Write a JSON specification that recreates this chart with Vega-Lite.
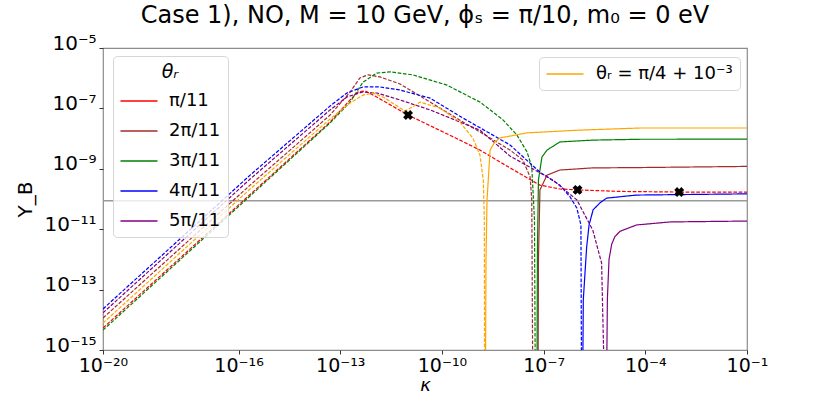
{
  "$schema": "https://vega.github.io/schema/vega-lite/v6.json",
  "width": 644,
  "height": 302,
  "autosize": {"type": "none"},
  "padding": {"left": 103, "top": 48, "right": 84, "bottom": 44},
  "background": "white",
  "title": {"text": "Case 1), NO, M = 10 GeV, ϕₛ = π/10, m₀ = 0 eV", "fontSize": 24, "fontWeight": "normal", "font": "DejaVu Sans", "offset": 5, "anchor": "middle", "color": "#000"},
  "config": {
    "font": "DejaVu Sans",
    "view": {"stroke": "#8c8c8c", "strokeWidth": 1.2},
    "axis": {"domain": false, "grid": false, "labelFont": "DejaVu Sans", "labelFontSize": 20, "labelColor": "#000", "tickColor": "#333", "tickSize": 4, "titleFont": "DejaVu Sans", "titleFontSize": 20, "titleFontWeight": "normal", "titleColor": "#000", "labelOverlap": false, "labelFlush": false}
  },
  "datasets": {
    "observed": [{"Y_B": 8.7e-11, "label": "observed"}],
    "markers": [
      {"kappa": 1e-11, "Y_B": 6.03e-8},
      {"kappa": 1e-6, "Y_B": 2.0e-10},
      {"kappa": 1e-3, "Y_B": 1.70e-10}
    ],
    "curves": [
      {"theta": "π/11", "branch": "negative", "kappa": 1e-20, "Y_B": 5.37e-15},
      {"theta": "π/11", "branch": "negative", "kappa": 7.24e-18, "Y_B": 4.37e-12},
      {"theta": "π/11", "branch": "negative", "kappa": 5.01e-14, "Y_B": 3.55e-8},
      {"theta": "π/11", "branch": "negative", "kappa": 1.95e-13, "Y_B": 1.91e-7},
      {"theta": "π/11", "branch": "negative", "kappa": 3.31e-13, "Y_B": 3.47e-7},
      {"theta": "π/11", "branch": "negative", "kappa": 5.37e-13, "Y_B": 3.80e-7},
      {"theta": "π/11", "branch": "negative", "kappa": 1.05e-12, "Y_B": 2.57e-7},
      {"theta": "π/11", "branch": "negative", "kappa": 1e-11, "Y_B": 6.03e-8},
      {"theta": "π/11", "branch": "negative", "kappa": 3.39e-10, "Y_B": 8.91e-9},
      {"theta": "π/11", "branch": "negative", "kappa": 1.32e-9, "Y_B": 4.17e-9},
      {"theta": "π/11", "branch": "negative", "kappa": 1.02e-8, "Y_B": 1.07e-9},
      {"theta": "π/11", "branch": "negative", "kappa": 7.76e-8, "Y_B": 2.88e-10},
      {"theta": "π/11", "branch": "negative", "kappa": 3.02e-7, "Y_B": 2.14e-10},
      {"theta": "π/11", "branch": "negative", "kappa": 1e-6, "Y_B": 2.0e-10},
      {"theta": "π/11", "branch": "negative", "kappa": 1.78e-5, "Y_B": 1.78e-10},
      {"theta": "π/11", "branch": "negative", "kappa": 1e-3, "Y_B": 1.70e-10},
      {"theta": "π/11", "branch": "negative", "kappa": 1e-1, "Y_B": 1.70e-10},

      {"theta": "2π/11", "branch": "negative", "kappa": 1e-20, "Y_B": 1.15e-14},
      {"theta": "2π/11", "branch": "negative", "kappa": 2.19e-16, "Y_B": 2.88e-10},
      {"theta": "2π/11", "branch": "negative", "kappa": 5.01e-14, "Y_B": 6.03e-8},
      {"theta": "2π/11", "branch": "negative", "kappa": 1.95e-13, "Y_B": 3.47e-7},
      {"theta": "2π/11", "branch": "negative", "kappa": 3.80e-13, "Y_B": 1.02e-6},
      {"theta": "2π/11", "branch": "negative", "kappa": 6.61e-13, "Y_B": 1.29e-6},
      {"theta": "2π/11", "branch": "negative", "kappa": 1.48e-12, "Y_B": 1.10e-6},
      {"theta": "2π/11", "branch": "negative", "kappa": 5.75e-12, "Y_B": 6.46e-7},
      {"theta": "2π/11", "branch": "negative", "kappa": 4.47e-11, "Y_B": 1.62e-7},
      {"theta": "2π/11", "branch": "negative", "kappa": 4.17e-10, "Y_B": 3.55e-8},
      {"theta": "2π/11", "branch": "negative", "kappa": 2.63e-9, "Y_B": 1.05e-8},
      {"theta": "2π/11", "branch": "negative", "kappa": 1.02e-8, "Y_B": 4.17e-9},
      {"theta": "2π/11", "branch": "negative", "kappa": 2.45e-8, "Y_B": 1.95e-9},
      {"theta": "2π/11", "branch": "negative", "kappa": 3.98e-8, "Y_B": 5.37e-10},
      {"theta": "2π/11", "branch": "negative", "kappa": 4.47e-8, "Y_B": 9.33e-11},
      {"theta": "2π/11", "branch": "negative", "kappa": 4.83e-8, "Y_B": 1e-17},
      {"theta": "2π/11", "branch": "positive", "kappa": 6.79e-8, "Y_B": 1e-17},
      {"theta": "2π/11", "branch": "positive", "kappa": 7.03e-8, "Y_B": 9.5e-13},
      {"theta": "2π/11", "branch": "positive", "kappa": 7.78e-8, "Y_B": 2.0e-10},
      {"theta": "2π/11", "branch": "positive", "kappa": 1.26e-7, "Y_B": 6.17e-10},
      {"theta": "2π/11", "branch": "positive", "kappa": 3.02e-7, "Y_B": 9.12e-10},
      {"theta": "2π/11", "branch": "positive", "kappa": 2.82e-6, "Y_B": 1.07e-9},
      {"theta": "2π/11", "branch": "positive", "kappa": 6.92e-5, "Y_B": 1.1e-9},
      {"theta": "2π/11", "branch": "positive", "kappa": 1e-1, "Y_B": 1.2e-9},

      {"theta": "3π/11", "branch": "negative", "kappa": 1e-20, "Y_B": 4.57e-15},
      {"theta": "3π/11", "branch": "negative", "kappa": 2.19e-16, "Y_B": 1.26e-10},
      {"theta": "3π/11", "branch": "negative", "kappa": 5.01e-14, "Y_B": 3.31e-8},
      {"theta": "3π/11", "branch": "negative", "kappa": 1.95e-13, "Y_B": 1.62e-7},
      {"theta": "3π/11", "branch": "negative", "kappa": 4.68e-13, "Y_B": 7.41e-7},
      {"theta": "3π/11", "branch": "negative", "kappa": 1.20e-12, "Y_B": 1.48e-6},
      {"theta": "3π/11", "branch": "negative", "kappa": 2.95e-12, "Y_B": 1.62e-6},
      {"theta": "3π/11", "branch": "negative", "kappa": 1.38e-11, "Y_B": 1.29e-6},
      {"theta": "3π/11", "branch": "negative", "kappa": 1.41e-10, "Y_B": 5.89e-7},
      {"theta": "3π/11", "branch": "negative", "kappa": 1.32e-9, "Y_B": 1.62e-7},
      {"theta": "3π/11", "branch": "negative", "kappa": 6.31e-9, "Y_B": 4.17e-8},
      {"theta": "3π/11", "branch": "negative", "kappa": 1.62e-8, "Y_B": 1.32e-8},
      {"theta": "3π/11", "branch": "negative", "kappa": 3.24e-8, "Y_B": 3.63e-9},
      {"theta": "3π/11", "branch": "negative", "kappa": 4.47e-8, "Y_B": 1.15e-9},
      {"theta": "3π/11", "branch": "negative", "kappa": 5.37e-8, "Y_B": 2.0e-11},
      {"theta": "3π/11", "branch": "negative", "kappa": 5.73e-8, "Y_B": 1e-17},
      {"theta": "3π/11", "branch": "positive", "kappa": 6.34e-8, "Y_B": 1e-17},
      {"theta": "3π/11", "branch": "positive", "kappa": 6.56e-8, "Y_B": 2.04e-12},
      {"theta": "3π/11", "branch": "positive", "kappa": 7.03e-8, "Y_B": 4.27e-10},
      {"theta": "3π/11", "branch": "positive", "kappa": 8.91e-8, "Y_B": 2.45e-9},
      {"theta": "3π/11", "branch": "positive", "kappa": 1.26e-7, "Y_B": 4.17e-9},
      {"theta": "3π/11", "branch": "positive", "kappa": 3.02e-7, "Y_B": 7.76e-9},
      {"theta": "3π/11", "branch": "positive", "kappa": 2.82e-6, "Y_B": 8.91e-9},
      {"theta": "3π/11", "branch": "positive", "kappa": 6.92e-5, "Y_B": 9.5e-9},
      {"theta": "3π/11", "branch": "positive", "kappa": 1e-1, "Y_B": 9.6e-9},

      {"theta": "4π/11", "branch": "negative", "kappa": 1e-20, "Y_B": 2.29e-14},
      {"theta": "4π/11", "branch": "negative", "kappa": 2.19e-16, "Y_B": 6.17e-10},
      {"theta": "4π/11", "branch": "negative", "kappa": 5.01e-14, "Y_B": 1.20e-7},
      {"theta": "4π/11", "branch": "negative", "kappa": 1.58e-13, "Y_B": 3.24e-7},
      {"theta": "4π/11", "branch": "negative", "kappa": 4.68e-13, "Y_B": 5.13e-7},
      {"theta": "4π/11", "branch": "negative", "kappa": 1.48e-12, "Y_B": 5.13e-7},
      {"theta": "4π/11", "branch": "negative", "kappa": 5.75e-12, "Y_B": 4.07e-7},
      {"theta": "4π/11", "branch": "negative", "kappa": 4.47e-11, "Y_B": 2.19e-7},
      {"theta": "4π/11", "branch": "negative", "kappa": 4.17e-10, "Y_B": 4.79e-8},
      {"theta": "4π/11", "branch": "negative", "kappa": 1.02e-8, "Y_B": 6.17e-9},
      {"theta": "4π/11", "branch": "negative", "kappa": 7.76e-8, "Y_B": 7.76e-10},
      {"theta": "4π/11", "branch": "negative", "kappa": 3.02e-7, "Y_B": 2.88e-10},
      {"theta": "4π/11", "branch": "negative", "kappa": 6.03e-7, "Y_B": 1.17e-10},
      {"theta": "4π/11", "branch": "negative", "kappa": 9.55e-7, "Y_B": 5.01e-11},
      {"theta": "4π/11", "branch": "negative", "kappa": 1.26e-6, "Y_B": 1.38e-11},
      {"theta": "4π/11", "branch": "negative", "kappa": 1.32e-6, "Y_B": 1e-17},
      {"theta": "4π/11", "branch": "positive", "kappa": 1.40e-6, "Y_B": 1e-17},
      {"theta": "4π/11", "branch": "positive", "kappa": 1.48e-6, "Y_B": 4.6e-14},
      {"theta": "4π/11", "branch": "positive", "kappa": 1.86e-6, "Y_B": 2.57e-12},
      {"theta": "4π/11", "branch": "positive", "kappa": 2.19e-6, "Y_B": 1.38e-11},
      {"theta": "4π/11", "branch": "positive", "kappa": 2.88e-6, "Y_B": 4.37e-11},
      {"theta": "4π/11", "branch": "positive", "kappa": 4.57e-6, "Y_B": 7.41e-11},
      {"theta": "4π/11", "branch": "positive", "kappa": 7.24e-6, "Y_B": 1.07e-10},
      {"theta": "4π/11", "branch": "positive", "kappa": 5.50e-5, "Y_B": 1.35e-10},
      {"theta": "4π/11", "branch": "positive", "kappa": 1e-1, "Y_B": 1.48e-10},

      {"theta": "5π/11", "branch": "negative", "kappa": 1e-20, "Y_B": 1.70e-14},
      {"theta": "5π/11", "branch": "negative", "kappa": 2.19e-16, "Y_B": 4.57e-10},
      {"theta": "5π/11", "branch": "negative", "kappa": 5.01e-14, "Y_B": 8.91e-8},
      {"theta": "5π/11", "branch": "negative", "kappa": 1.58e-13, "Y_B": 2.40e-7},
      {"theta": "5π/11", "branch": "negative", "kappa": 4.37e-13, "Y_B": 3.47e-7},
      {"theta": "5π/11", "branch": "negative", "kappa": 1.20e-12, "Y_B": 3.24e-7},
      {"theta": "5π/11", "branch": "negative", "kappa": 5.75e-12, "Y_B": 1.91e-7},
      {"theta": "5π/11", "branch": "negative", "kappa": 4.47e-11, "Y_B": 8.91e-8},
      {"theta": "5π/11", "branch": "negative", "kappa": 1.32e-9, "Y_B": 1.91e-8},
      {"theta": "5π/11", "branch": "negative", "kappa": 1.02e-8, "Y_B": 2.63e-9},
      {"theta": "5π/11", "branch": "negative", "kappa": 1.86e-7, "Y_B": 4.27e-10},
      {"theta": "5π/11", "branch": "negative", "kappa": 9.55e-7, "Y_B": 9.33e-11},
      {"theta": "5π/11", "branch": "negative", "kappa": 2.82e-6, "Y_B": 9.33e-12},
      {"theta": "5π/11", "branch": "negative", "kappa": 5.13e-6, "Y_B": 7.59e-13},
      {"theta": "5π/11", "branch": "negative", "kappa": 6.46e-6, "Y_B": 1e-17},
      {"theta": "5π/11", "branch": "positive", "kappa": 7.08e-6, "Y_B": 1e-17},
      {"theta": "5π/11", "branch": "positive", "kappa": 7.6e-6, "Y_B": 5.0e-14},
      {"theta": "5π/11", "branch": "positive", "kappa": 8.5e-6, "Y_B": 1.0e-12},
      {"theta": "5π/11", "branch": "positive", "kappa": 1.02e-5, "Y_B": 3.2e-12},
      {"theta": "5π/11", "branch": "positive", "kappa": 1.26e-5, "Y_B": 5.6e-12},
      {"theta": "5π/11", "branch": "positive", "kappa": 1.78e-5, "Y_B": 8.5e-12},
      {"theta": "5π/11", "branch": "positive", "kappa": 5.50e-5, "Y_B": 1.38e-11},
      {"theta": "5π/11", "branch": "positive", "kappa": 5.37e-4, "Y_B": 1.74e-11},
      {"theta": "5π/11", "branch": "positive", "kappa": 1e-1, "Y_B": 1.86e-11}
    ],
    "orange": [
      {"theta": "θᵣ = π/4 + 10⁻³", "branch": "negative", "kappa": 1e-20, "Y_B": 7.76e-15},
      {"theta": "θᵣ = π/4 + 10⁻³", "branch": "negative", "kappa": 2.19e-16, "Y_B": 2.14e-10},
      {"theta": "θᵣ = π/4 + 10⁻³", "branch": "negative", "kappa": 5.01e-14, "Y_B": 4.47e-8},
      {"theta": "θᵣ = π/4 + 10⁻³", "branch": "negative", "kappa": 1.95e-13, "Y_B": 1.51e-7},
      {"theta": "θᵣ = π/4 + 10⁻³", "branch": "negative", "kappa": 4.68e-13, "Y_B": 2.75e-7},
      {"theta": "θᵣ = π/4 + 10⁻³", "branch": "negative", "kappa": 9.12e-13, "Y_B": 3.24e-7},
      {"theta": "θᵣ = π/4 + 10⁻³", "branch": "negative", "kappa": 1.82e-12, "Y_B": 2.40e-7},
      {"theta": "θᵣ = π/4 + 10⁻³", "branch": "negative", "kappa": 8.13e-12, "Y_B": 8.13e-8},
      {"theta": "θᵣ = π/4 + 10⁻³", "branch": "negative", "kappa": 1.38e-11, "Y_B": 1.12e-7},
      {"theta": "θᵣ = π/4 + 10⁻³", "branch": "negative", "kappa": 2.24e-11, "Y_B": 1.62e-7},
      {"theta": "θᵣ = π/4 + 10⁻³", "branch": "negative", "kappa": 8.71e-11, "Y_B": 1.02e-7},
      {"theta": "θᵣ = π/4 + 10⁻³", "branch": "negative", "kappa": 3.39e-10, "Y_B": 3.55e-8},
      {"theta": "θᵣ = π/4 + 10⁻³", "branch": "negative", "kappa": 8.13e-10, "Y_B": 1.05e-8},
      {"theta": "θᵣ = π/4 + 10⁻³", "branch": "negative", "kappa": 1.32e-9, "Y_B": 2.88e-9},
      {"theta": "θᵣ = π/4 + 10⁻³", "branch": "negative", "kappa": 1.66e-9, "Y_B": 4.27e-10},
      {"theta": "θᵣ = π/4 + 10⁻³", "branch": "negative", "kappa": 1.78e-9, "Y_B": 2.0e-11},
      {"theta": "θᵣ = π/4 + 10⁻³", "branch": "negative", "kappa": 1.82e-9, "Y_B": 1e-17},
      {"theta": "θᵣ = π/4 + 10⁻³", "branch": "positive", "kappa": 1.91e-9, "Y_B": 1e-17},
      {"theta": "θᵣ = π/4 + 10⁻³", "branch": "positive", "kappa": 1.99e-9, "Y_B": 9.5e-13},
      {"theta": "θᵣ = π/4 + 10⁻³", "branch": "positive", "kappa": 2.14e-9, "Y_B": 9.3e-11},
      {"theta": "θᵣ = π/4 + 10⁻³", "branch": "positive", "kappa": 2.63e-9, "Y_B": 4.17e-9},
      {"theta": "θᵣ = π/4 + 10⁻³", "branch": "positive", "kappa": 3.63e-9, "Y_B": 7.76e-9},
      {"theta": "θᵣ = π/4 + 10⁻³", "branch": "positive", "kappa": 5.13e-9, "Y_B": 1.05e-8},
      {"theta": "θᵣ = π/4 + 10⁻³", "branch": "positive", "kappa": 3.24e-8, "Y_B": 1.55e-8},
      {"theta": "θᵣ = π/4 + 10⁻³", "branch": "positive", "kappa": 1.17e-6, "Y_B": 1.91e-8},
      {"theta": "θᵣ = π/4 + 10⁻³", "branch": "positive", "kappa": 6.92e-5, "Y_B": 2.24e-8},
      {"theta": "θᵣ = π/4 + 10⁻³", "branch": "positive", "kappa": 2.09e-3, "Y_B": 2.24e-8},
      {"theta": "θᵣ = π/4 + 10⁻³", "branch": "positive, faint", "kappa": 2.09e-3, "Y_B": 2.24e-8},
      {"theta": "θᵣ = π/4 + 10⁻³", "branch": "positive, faint", "kappa": 1e-1, "Y_B": 2.24e-8}
    ]
  },
  "layer": [
    {
      "data": {"name": "observed"},
      "mark": {"type": "rule", "color": "#9a9a9a", "strokeWidth": 1.5},
      "encoding": {
        "y": {"field": "Y_B", "type": "quantitative", "scale": {"type": "log", "domain": [1e-15, 1e-5], "nice": false}}
      }
    },
    {
      "data": {"name": "curves"},
      "mark": {"type": "line", "clip": true, "strokeWidth": 1.2},
      "encoding": {
        "x": {"field": "kappa", "type": "quantitative", "scale": {"type": "log", "domain": [1e-20, 1e-1], "nice": false},
          "axis": {"title": "κ", "titleFontStyle": "italic", "titleFontSize": 18, "titlePadding": 1, "labelFontSize": 19, "labelPadding": 2, "values": [1e-20, 1e-16, 1e-13, 1e-10, 1e-7, 1e-4, 1e-1],
            "labelExpr": "'10' + replace(replace(replace(replace(replace(replace(replace(replace(replace(replace(replace('' + round(log(datum.value)/LN10), '-', '⁻'), regexp('0','g'), '⁰'), regexp('1','g'), '¹'), regexp('2','g'), '²'), regexp('3','g'), '³'), regexp('4','g'), '⁴'), regexp('5','g'), '⁵'), regexp('6','g'), '⁶'), regexp('7','g'), '⁷'), regexp('8','g'), '⁸'), regexp('9','g'), '⁹')"}},
        "y": {"field": "Y_B", "type": "quantitative", "scale": {"type": "log", "domain": [1e-15, 1e-5], "nice": false},
          "axis": {"title": "Y_B", "titlePadding": 8, "labelPadding": 3, "labelOffset": -5, "values": [1e-15, 1e-13, 1e-11, 1e-9, 1e-7, 1e-5],
            "labelExpr": "'10' + replace(replace(replace(replace(replace(replace(replace(replace(replace(replace(replace('' + round(log(datum.value)/LN10), '-', '⁻'), regexp('0','g'), '⁰'), regexp('1','g'), '¹'), regexp('2','g'), '²'), regexp('3','g'), '³'), regexp('4','g'), '⁴'), regexp('5','g'), '⁵'), regexp('6','g'), '⁶'), regexp('7','g'), '⁷'), regexp('8','g'), '⁸'), regexp('9','g'), '⁹')"}},
        "color": {"field": "theta", "type": "nominal",
          "scale": {"domain": ["π/11", "2π/11", "3π/11", "4π/11", "5π/11"], "range": ["#ff0000", "#a52a2a", "#008000", "#0000ff", "#800080"]},
          "legend": {"title": "θᵣ", "orient": "none", "legendX": 10, "legendY": 8, "titleAnchor": "middle", "titleFontSize": 19, "titleFontWeight": "normal", "titleFontStyle": "italic", "titlePadding": 9, "titleColor": "#000",
            "labelFontSize": 18, "labelColor": "#000", "symbolType": "M-2,0H2", "symbolSize": 342, "symbolStrokeWidth": 1.3, "symbolOffset": 9, "labelOffset": 20, "rowPadding": 11,
            "padding": 7, "strokeColor": "#d6d6d6", "fillColor": "rgba(255,255,255,0.8)", "cornerRadius": 4}},
        "strokeDash": {"field": "branch", "type": "nominal", "legend": null,
          "scale": {"domain": ["negative", "positive", "positive, faint"], "range": [[3.7, 1.6], [1, 0], [1, 0]]}}
      }
    },
    {
      "data": {"name": "orange"},
      "mark": {"type": "line", "clip": true, "strokeWidth": 1.2},
      "encoding": {
        "x": {"field": "kappa", "type": "quantitative", "scale": {"type": "log", "domain": [1e-20, 1e-1], "nice": false}},
        "y": {"field": "Y_B", "type": "quantitative", "scale": {"type": "log", "domain": [1e-15, 1e-5], "nice": false}},
        "color": {"field": "theta", "type": "nominal",
          "scale": {"domain": ["θᵣ = π/4 + 10⁻³"], "range": ["#ffa500"]},
          "legend": {"title": null, "orient": "none", "legendX": 436, "legendY": 9,
            "labelFontSize": 18, "labelColor": "#000", "symbolType": "M-2,0H2", "symbolSize": 342, "symbolStrokeWidth": 1.3, "symbolOffset": 9, "labelOffset": 21,
            "padding": 7, "strokeColor": "#d6d6d6", "fillColor": "rgba(255,255,255,0.8)", "cornerRadius": 4}},
        "strokeDash": {"field": "branch", "type": "nominal", "legend": null,
          "scale": {"domain": ["negative", "positive", "positive, faint"], "range": [[3.7, 1.6], [1, 0], [1, 0]]}},
        "opacity": {"field": "branch", "type": "nominal", "legend": null,
          "scale": {"domain": ["negative", "positive", "positive, faint"], "range": [1, 1, 0.2]}}
      }
    },
    {
      "data": {"name": "markers"},
      "mark": {"type": "point", "shape": "cross", "angle": 45, "filled": true, "color": "#000", "size": 100, "opacity": 1},
      "encoding": {
        "x": {"field": "kappa", "type": "quantitative", "scale": {"type": "log", "domain": [1e-20, 1e-1], "nice": false}},
        "y": {"field": "Y_B", "type": "quantitative", "scale": {"type": "log", "domain": [1e-15, 1e-5], "nice": false}}
      }
    }
  ],
  "resolve": {"scale": {"color": "independent"}}
}
